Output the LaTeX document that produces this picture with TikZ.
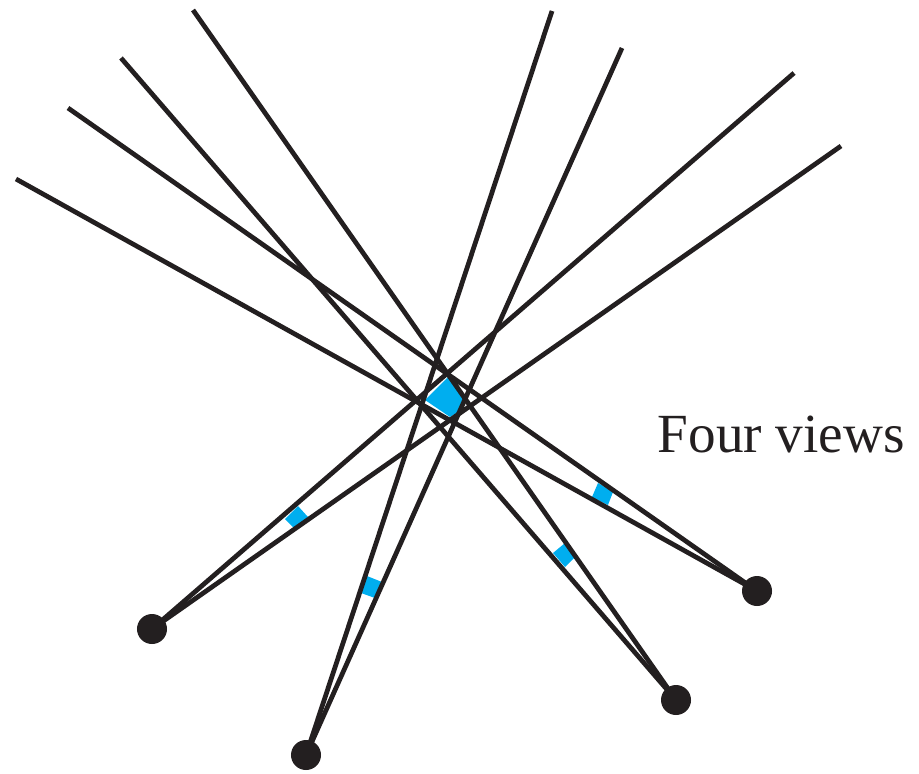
\documentclass[tikz,border=0pt]{standalone}
\usepackage{fontspec}
\setmainfont{Liberation Serif}
\definecolor{patchblue}{HTML}{00AEEF}
\definecolor{rayblack}{HTML}{231F20}
\tikzset{
  ray/.style={draw=rayblack, line width=1.35pt},
  eye/.style={circle, fill=rayblack, inner sep=0pt, minimum size=0.3cm},
  patch/.style={fill=patchblue, draw=none}
}

\begin{document}
\begin{tikzpicture}[x=0.01cm, y=-0.01cm]
  \useasboundingbox (0,0) rectangle (919,773);
  % blue patches, under the rays
  \fill[patch] (425,400) -- (448,377) -- (463,399) -- (458,412) -- (450,417) -- cycle;
  \fill[patch] (285,519) -- (298,506) -- (308,517) -- (294,528) -- cycle;
  \fill[patch] (367,576) -- (382,582) -- (375,598) -- (361,593) -- cycle;
  \fill[patch] (565,543) -- (575,557) -- (565,567) -- (553,553) -- cycle;
  \fill[patch] (598,483) -- (613,492) -- (608,505) -- (592,497) -- cycle;
  % camera centres
  \node[eye] (eyeA) at (152,629) {};
  \node[eye] (eyeB) at (306,755) {};
  \node[eye] (eyeC) at (676,700) {};
  \node[eye] (eyeD) at (757,591) {};
  % far ends of the rays
  \coordinate (endA1) at (794,73);
  \coordinate (endA2) at (841,146);
  \coordinate (endB1) at (552,11);
  \coordinate (endB2) at (622,48);
  \coordinate (endC1) at (193,10);
  \coordinate (endC2) at (121,58);
  \coordinate (endD1) at (68,108);
  \coordinate (endD2) at (16,179);
  \foreach \v in {A,B,C,D} {
    \draw[ray] (eye\v.center) -- (end\v1);
    \draw[ray] (eye\v.center) -- (end\v2);
  }
  \node[anchor=base west, font=\fontsize{15.7pt}{18pt}\selectfont, text=rayblack, inner sep=0pt] (views) at (657,452) {Four views};
\end{tikzpicture}
\end{document}
